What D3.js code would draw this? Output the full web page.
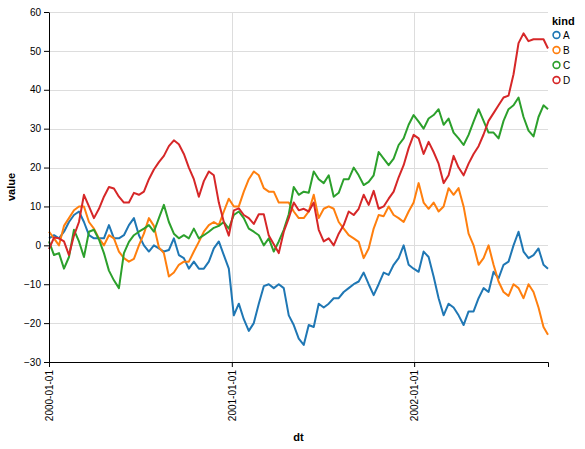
<!DOCTYPE html>
<html>
<head>
<meta charset="utf-8">
<script src="https://cdn.jsdelivr.net/npm/d3@7"></script>
<style>
  body { margin: 0; background: #fff; }
  svg { font-family: "Liberation Sans", Arial, Helvetica, sans-serif; }
</style>
</head>
<body>
<div id="chart"></div>
<script>
// one sample every 10 days, from 2000-01-01 (last point = day 999)
var days = d3.range(0, 1000, 10).concat([999]);
var kinds = ["A", "B", "C", "D"];
var colors = ["#1f77b4", "#ff7f0e", "#2ca02c", "#d62728"];
var yTicks = [-30, -20, -10, 0, 10, 20, 30, 40, 50, 60];

var seriesA = [1.8, 2.6, 1.8, 3.5, 6, 7.8, 8.7, 6, 2.6, 1.8, 1.8, 1.8, 5.2, 1.8, 1.8, 2.6, 5.2,
  7, 2.6, 0, -1.6, 0, -0.8, -1.6, -1.2, 1.8, -2.5, -3.3, -6, -4.2, -6, -6, -4.2, -0.8,
  1, -2.5, -6, -18, -15, -19, -22, -20, -15, -10.5, -10, -11, -10, -11, -18, -20.5, -24,
  -25.6, -20.5, -21, -15, -16, -15, -13.6, -13.6, -12, -11, -10, -9.3, -7, -10, -12.8, -10, -7,
  -7.6, -5, -3.3, 0, -5, -6, -6.8, -1.6, -3, -8, -13.6, -18, -15, -16, -18, -20.5, -17,
  -17, -13.6, -11, -12, -6.8, -8.5, -5, -4.2, 0, 3.5, -1.6, -3.3, -2.5, -0.8, -5, -6];

var seriesB = [3.5, 1.8, 0, 5, 7, 9, 10, 10, 6, 4.3, 1.8, 0, 2.6, 1.8, -1.6, -3.3, -4.2,
  -3.5, 0, 3, 7, 5, -0.5, -2, -8, -7, -5, -4.2, -4.2, -1.6, 0.9, 3.5, 5.2, 6,
  5.2, 8.7, 12, 10, 10, 13.8, 17, 19, 18, 14.7, 13.8, 13.8, 11, 11, 11, 8.7, 7,
  7, 8.7, 13, 7, 9.4, 10, 9.4, 6, 4.3, 2.6, 1.8, 0.9, -3.3, -0.8, 4.3, 7.8, 7.5,
  10, 7.8, 7, 6, 8.7, 11, 16, 11, 9.4, 11, 8.7, 10, 14.7, 13, 14.7, 10, 3,
  0, -5, -3.3, 0, -5, -9.3, -12, -13, -10, -11, -13.6, -10, -12, -16, -21, -23];

var seriesC = [1, -2.5, -2, -6, -3, 4, 1, -3, 3.5, 4, 1.5, -2, -6.5, -9, -11, -2, 0.9,
  2.6, 3.5, 4.3, 5.2, 3.5, 7, 10.4, 6, 3, 1.8, 2.6, 1.8, 4.3, 1.8, 2.6, 3.5, 4.5,
  5, 6, 4.3, 7.8, 8.7, 7, 4.3, 3.5, 2.6, 0, 1.8, -1.6, 1, 4, 8, 15, 13,
  13.8, 13.5, 19, 17, 16, 18, 12.5, 13.5, 17, 17, 20, 18, 15.5, 16.3, 18, 24, 22.3,
  20.6, 22.3, 25.8, 27.5, 31, 33.5, 31.8, 30, 32.6, 33.5, 35, 31, 32.6, 29, 27.5, 25.8, 28.4,
  31.8, 35, 32, 29, 29, 27.5, 32, 35, 36, 38, 33, 29.5, 28, 33, 36, 35];

var seriesD = [-1, 2, 1.8, 1, -2.5, 2.5, 6, 13, 10, 7, 9.4, 12.5, 15, 14.6, 12.5, 11, 11,
  13.5, 13, 13.8, 17, 19.5, 21.4, 23, 25.5, 27, 26, 23.5, 20, 17, 12.5, 16.5, 19, 18,
  11, 6, 2.5, 9, 9.5, 7.8, 7, 5.5, 8, 8, 2.5, 0.3, -2, 3.5, 7, 11, 9,
  9.4, 8.7, 11, 4, 1, 1.8, 0, 3, 5.2, 8.7, 7.8, 9.4, 13, 10.4, 14, 9.4, 10,
  12, 13.8, 17.5, 20.6, 25, 28.4, 27.5, 23.5, 26.6, 24, 21, 16, 18, 23, 20, 18, 21,
  23.5, 25.5, 28.5, 32, 34, 36, 38, 38.5, 44, 52, 54.5, 52.5, 53, 53, 53, 50.6];

var allSeries = [seriesA, seriesB, seriesC, seriesD];

var W = 585, H = 449;
var margin = {left: 49, top: 12};
var width = 499, height = 350;

var start = new Date(2000, 0, 1);
var dates = days.map(function(d) { return d3.timeDay.offset(start, d); });

var svg = d3.select("#chart").append("svg")
  .attr("width", W)
  .attr("height", H);

var g = svg.append("g")
  .attr("transform", "translate(" + margin.left + "," + margin.top + ")");

var x = d3.scaleTime()
  .domain([start, dates[dates.length - 1]])
  .range([0, width]);

var y = d3.scaleLinear()
  .domain([-30, 60])
  .range([height, 0]);

var xTicks = [new Date(2000, 0, 1), new Date(2001, 0, 1), new Date(2002, 0, 1)];

// grid
g.append("g")
  .selectAll("line.gx")
  .data(xTicks)
  .enter().append("line")
  .attr("x1", function(d) { return Math.round(x(d)) + 0.5; })
  .attr("x2", function(d) { return Math.round(x(d)) + 0.5; })
  .attr("y1", 0).attr("y2", height)
  .attr("stroke", "#ddd");

g.append("g")
  .selectAll("line.gy")
  .data(yTicks)
  .enter().append("line")
  .attr("x1", 0).attr("x2", width)
  .attr("y1", function(d) { return Math.round(y(d)) + 0.5; })
  .attr("y2", function(d) { return Math.round(y(d)) + 0.5; })
  .attr("stroke", "#ddd");

// lines
var line = d3.line()
  .x(function(d, i) { return x(dates[i]); })
  .y(function(d) { return y(d); });

allSeries.forEach(function(s, i) {
  g.append("path")
    .datum(s)
    .attr("fill", "none")
    .attr("stroke", colors[i])
    .attr("stroke-width", 2)
    .attr("stroke-linejoin", "round")
    .attr("d", line);
});

// axes
var xAxis = g.append("g")
  .attr("transform", "translate(0," + height + ")")
  .call(d3.axisBottom(x).tickValues(xTicks).tickSize(5).tickSizeOuter(5)
    .tickFormat(d3.timeFormat("%Y-%m-%d")));

xAxis.selectAll("text")
  .attr("transform", "rotate(-90)")
  .attr("x", -8)
  .attr("y", 0)
  .attr("dy", "0.32em")
  .style("text-anchor", "end");

var yAxis = g.append("g")
  .call(d3.axisLeft(y).tickValues(yTicks).tickSize(5).tickPadding(3).tickSizeOuter(0));

[xAxis, yAxis].forEach(function(a) {
  a.selectAll("path, line").attr("stroke", "#000");
  a.selectAll("text").attr("font-size", 10).attr("fill", "#000")
    .attr("font-family", "Liberation Sans, Arial, sans-serif");
});

// axis titles
svg.append("text")
  .attr("x", margin.left + width / 2)
  .attr("y", 441)
  .attr("text-anchor", "middle")
  .attr("font-size", 11)
  .attr("font-weight", "bold")
  .text("dt");

svg.append("text")
  .attr("transform", "translate(15," + (margin.top + height / 2) + ") rotate(-90)")
  .attr("text-anchor", "middle")
  .attr("font-size", 11)
  .attr("font-weight", "bold")
  .text("value");

// legend
var legend = svg.append("g").attr("transform", "translate(552,0)");
legend.append("text")
  .attr("x", 0).attr("y", 25)
  .attr("font-size", 11)
  .attr("font-weight", "bold")
  .text("kind");

var items = legend.selectAll("g.item")
  .data(kinds)
  .enter().append("g")
  .attr("transform", function(d, i) { return "translate(0," + (35 + i * 15) + ")"; });

items.append("circle")
  .attr("cx", 4.5).attr("cy", 0).attr("r", 3.4)
  .attr("fill", "none")
  .attr("stroke", function(d, i) { return colors[i]; })
  .attr("stroke-width", 1.6);

items.append("text")
  .attr("x", 11).attr("y", 0)
  .attr("dy", "0.35em")
  .attr("font-size", 10)
  .text(function(d) { return d; });
</script>
</body>
</html>
